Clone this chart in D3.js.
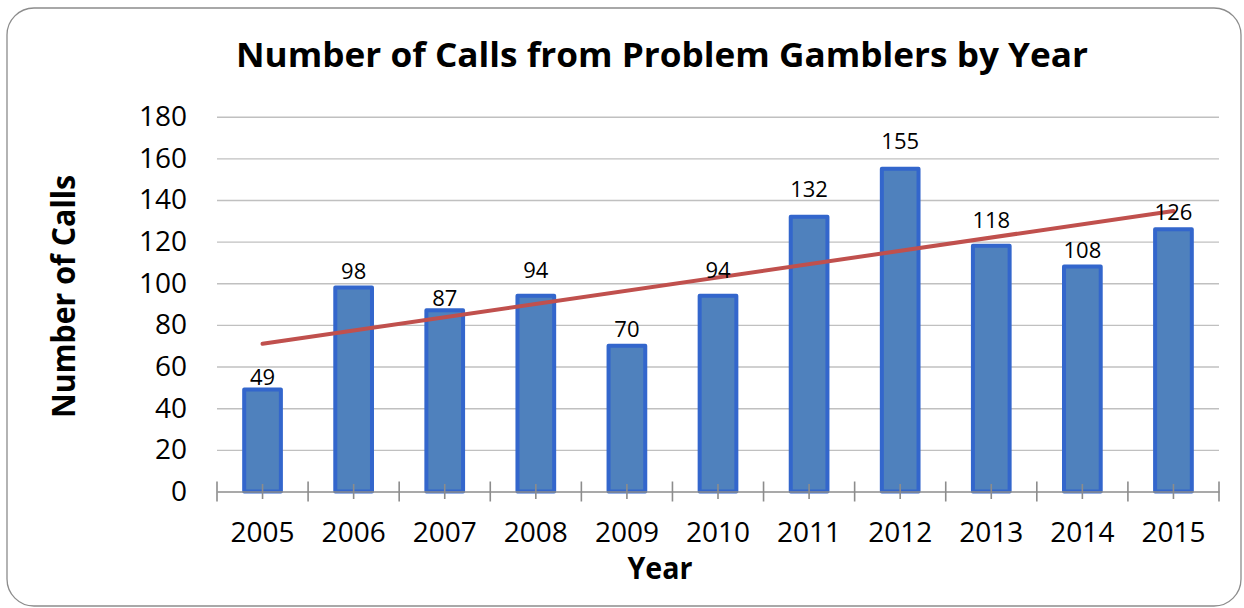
<!DOCTYPE html>
<html>
<head>
<meta charset="utf-8">
<script src="https://cdn.jsdelivr.net/npm/d3@7"></script>
<style>
  html, body { margin: 0; padding: 0; background: #fff; }
  svg { display: block; }
  text { font-family: "Open Sans", "Noto Sans", sans-serif; fill: #000; }
</style>
</head>
<body>
<svg id="chart" width="1244" height="608"></svg>
<script>
// ---- data ----
const years = ["2005","2006","2007","2008","2009","2010","2011","2012","2013","2014","2015"];
const calls = [49, 98, 87, 94, 70, 94, 132, 155, 118, 108, 126];
const yTicks = [0, 20, 40, 60, 80, 100, 120, 140, 160, 180];
const chartTitle = "Number of Calls from Problem Gamblers by Year";
const xTitle = "Year";
const yTitle = "Number of Calls";

// ---- layout / style ----
const labelLift = [4, 8, 4, 18, 9, 18, 20, 20, 18, 9, 9]; // px above bar top for each data label
const plot = { left: 217, right: 1219, top: 116.7, bottom: 491.5 };
const barFill = "#4f81bd", barStroke = "#3366cc", trendColor = "#c0504d";

const svg = d3.select("#chart");

// border
svg.append("rect")
  .attr("x", 7).attr("y", 8).attr("width", 1234).attr("height", 598)
  .attr("rx", 27).attr("ry", 27)
  .attr("fill", "#fff").attr("stroke", "#8c8c8c").attr("stroke-width", 1.3);

const x = d3.scaleBand().domain(years).range([plot.left, plot.right]).padding(0);
const y = d3.scaleLinear().domain([0, 180]).range([plot.bottom, plot.top]);

// gridlines
const grid = svg.append("g").attr("transform", `translate(${plot.left},0)`)
  .call(d3.axisLeft(y).tickValues(yTicks.filter(d => d > 0)).tickSize(-(plot.right - plot.left)).tickFormat(""));
grid.select(".domain").remove();
grid.selectAll(".tick line").attr("stroke", "#c0c0c0").attr("stroke-width", 1.4);

// y axis labels
const yAxis = svg.append("g").attr("transform", `translate(${plot.left},0)`)
  .call(d3.axisLeft(y).tickValues(yTicks).tickSize(0).tickPadding(30));
yAxis.select(".domain").remove();
yAxis.selectAll("text").attr("font-size", 28).attr("font-family", "'Open Sans', sans-serif").attr("fill", "#000");

// bars
const barW = x.bandwidth() * 0.403;
svg.append("g").selectAll("rect").data(calls).join("rect")
  .attr("x", (d, i) => x(years[i]) + x.bandwidth() / 2 - barW / 2)
  .attr("y", d => y(d))
  .attr("width", barW)
  .attr("height", d => y(0) - y(d))
  .attr("fill", barFill)
  .attr("stroke", barStroke)
  .attr("stroke-width", 4)
  .attr("stroke-linejoin", "round");

// x axis
const xAxis = svg.append("g").attr("transform", `translate(0,${plot.bottom})`)
  .call(d3.axisBottom(x).tickSize(0).tickPadding(30.6));
xAxis.select(".domain").attr("stroke", "#8c8c8c").attr("stroke-width", 1.6);
xAxis.selectAll("text").attr("font-size", 28).attr("font-family", "'Open Sans', sans-serif").attr("fill", "#000");

// tick marks: long at category boundaries, short at centers
const bounds = years.map(d => x(d)).concat([x.range()[1]]);
svg.append("g").selectAll("line.b").data(bounds).join("line")
  .attr("x1", d => d).attr("x2", d => d)
  .attr("y1", plot.bottom - 10).attr("y2", plot.bottom + 10)
  .attr("stroke", "#8c8c8c").attr("stroke-width", 1.6);
svg.append("g").selectAll("line.c").data(years).join("line")
  .attr("x1", d => x(d) + x.bandwidth() / 2).attr("x2", d => x(d) + x.bandwidth() / 2)
  .attr("y1", plot.bottom - 7.5).attr("y2", plot.bottom + 7.5)
  .attr("stroke", "#8c8c8c").attr("stroke-width", 1.6);

// linear trendline (least squares of the series)
const n = calls.length;
const idx = d3.range(n);
const mx = d3.mean(idx), my = d3.mean(calls);
const slope = d3.sum(idx, i => (i - mx) * (calls[i] - my)) / d3.sum(idx, i => (i - mx) * (i - mx));
const icpt = my - slope * mx;
const trend = [0, n - 1].map(i => [x(years[i]) + x.bandwidth() / 2, y(icpt + slope * i)]);
svg.append("path")
  .attr("d", d3.line()(trend))
  .attr("fill", "none").attr("stroke", trendColor).attr("stroke-width", 4).attr("stroke-linecap", "round");

// data labels
svg.append("g").selectAll("text").data(calls).join("text")
  .attr("x", (d, i) => x(years[i]) + x.bandwidth() / 2)
  .attr("y", (d, i) => y(d) - labelLift[i])
  .attr("text-anchor", "middle")
  .attr("font-size", 22)
  .text(d => d);

// titles
svg.append("text")
  .attr("x", 662).attr("y", 66.5)
  .attr("text-anchor", "middle").attr("font-size", 34).attr("font-weight", "bold")
  .attr("textLength", 852).attr("lengthAdjust", "spacingAndGlyphs")
  .text(chartTitle);

svg.append("text")
  .attr("x", 660).attr("y", 579)
  .attr("text-anchor", "middle").attr("font-size", 31).attr("font-weight", "bold")
  .attr("textLength", 65).attr("lengthAdjust", "spacingAndGlyphs")
  .text(xTitle);

svg.append("text")
  .attr("transform", "translate(75,296.5) rotate(-90)")
  .attr("text-anchor", "middle").attr("font-size", 32).attr("font-weight", "bold")
  .attr("textLength", 243).attr("lengthAdjust", "spacingAndGlyphs")
  .text(yTitle);
</script>
</body>
</html>
